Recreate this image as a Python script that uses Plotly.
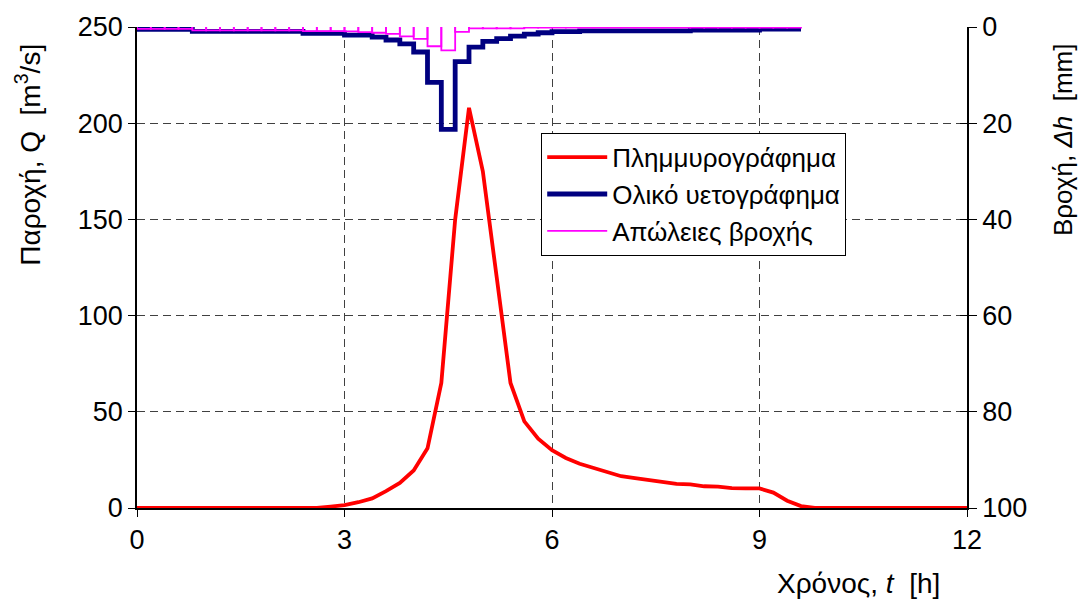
import plotly.graph_objects as go

# ---------------- data ----------------
# Flood hydrograph (time [h], discharge [m3/s])
t_q = [0.0, 2.6, 2.8, 3.0, 3.2, 3.4, 3.6, 3.8, 4.0, 4.2, 4.4, 4.6, 4.8, 5.0, 5.2, 5.4,
       5.6, 5.8, 6.0, 6.2, 6.4, 6.6, 6.8, 7.0, 7.2, 7.4, 7.6, 7.8, 8.0, 8.2, 8.4, 8.6,
       8.8, 9.0, 9.2, 9.4, 9.6, 9.8, 12.0]
q = [0.0, 0.0, 0.7, 1.5, 3.0, 5.0, 8.8, 13.0, 19.5, 31.0, 65.0, 150.0, 208.0, 175.0, 120.0, 65.0,
     45.0, 36.0, 30.0, 26.0, 23.0, 21.0, 18.5, 16.5, 15.5, 14.5, 13.5, 12.5, 12.3, 11.3, 11.1, 10.3,
     10.2, 10.2, 8.0, 3.8, 1.0, 0.0, 0.0]

# Rainfall intervals (start time [h]), interval length 0.2 h
t_rain = [0.0, 0.2, 0.4, 0.6, 0.8, 1.0, 1.2, 1.4, 1.6, 1.8, 2.0, 2.2, 2.4, 2.6, 2.8, 3.0,
          3.2, 3.4, 3.6, 3.8, 4.0, 4.2, 4.4, 4.6, 4.8, 5.0, 5.2, 5.4, 5.6, 5.8, 6.0, 6.2,
          6.4, 6.6, 6.8, 7.0, 7.2, 7.4, 7.6, 7.8, 8.0, 8.2, 8.4, 8.6, 8.8, 9.0, 9.2, 9.4]
dt = 0.2
# Total hyetograph [mm]
h_total = [0.5, 0.5, 0.5, 0.5, 0.9, 0.9, 0.9, 0.9, 0.9, 0.9, 0.9, 0.9, 1.3, 1.3, 1.3, 1.7,
           1.7, 2.1, 2.7, 3.5, 5.2, 11.5, 21.3, 7.2, 4.2, 3.0, 2.4, 1.9, 1.5, 1.2, 0.95, 0.95,
           0.8, 0.8, 0.8, 0.8, 0.8, 0.8, 0.8, 0.8, 0.65, 0.65, 0.65, 0.65, 0.65, 0.45, 0.45, 0.45]
# Rainfall losses [mm]
h_loss = [0.4, 0.4, 0.4, 0.4, 0.7, 0.7, 0.7, 0.7, 0.7, 0.7, 0.7, 0.7, 0.85, 0.85, 0.85, 0.9,
          1.05, 1.2, 1.45, 1.95, 2.45, 4.0, 4.85, 1.0, 0.3, 0.3, 0.3, 0.3, 0.1, 0.1, 0.1, 0.1,
          0.1, 0.1, 0.1, 0.1, 0.1, 0.1, 0.1, 0.1, 0.1, 0.1, 0.1, 0.1, 0.1, 0.1, 0.1, 0.1]

names = ["Πλημμυρογράφημα", "Ολικό υετογράφημα", "Απώλειες βροχής"]

# ---------------- build traces ----------------
x_tot = t_rain + [t_rain[-1] + dt]
y_tot = h_total + [h_total[-1]]

x_loss, y_loss = [], []
for t0, v in zip(t_rain, h_loss):
    x_loss += [t0, t0, t0 + dt, t0 + dt, None]
    y_loss += [0, v, v, 0, None]

FONT = "Liberation Sans, Arial, sans-serif"

fig = go.Figure()
fig.add_trace(go.Scatter(x=t_q, y=q, mode="lines", name=names[0],
                         line=dict(color="#FF0000", width=3.8), yaxis="y"))
fig.add_trace(go.Scatter(x=x_tot, y=y_tot, mode="lines", name=names[1], line_shape="hv",
                         line=dict(color="#000080", width=4.8), yaxis="y2"))
fig.add_trace(go.Scatter(x=x_loss, y=y_loss, mode="lines", name=names[2],
                         line=dict(color="#FF00FF", width=1.8), yaxis="y2",
                         connectgaps=False))
fig.add_trace(go.Scatter(x=[0], y=[0], mode="markers", marker=dict(opacity=0),
                         showlegend=False, hoverinfo="skip", yaxis="y3"))

grid = dict(showgrid=True, gridcolor="#404040", gridwidth=1, griddash="8px,5px")

fig.update_layout(
    width=1080, height=610,
    margin=dict(l=137, r=113, t=27, b=102),
    paper_bgcolor="white", plot_bgcolor="white",
    font=dict(family=FONT, size=27, color="black"),
    xaxis=dict(range=[0, 12], tickvals=[0, 3, 6, 9, 12], ticks="outside", ticklen=7,
               tickcolor="black", showline=True, linecolor="black", linewidth=1.5,
               zeroline=False, **grid),
    yaxis=dict(range=[0, 250], tickvals=[0, 50, 100, 150, 200, 250], ticks="outside",
               ticklen=7, tickcolor="black", showline=True, linecolor="black",
               linewidth=1.5, zeroline=False, **grid),
    yaxis2=dict(range=[100, 0], tickvals=[0, 20, 40, 60, 80, 100], overlaying="y",
                side="right", anchor="x", ticks="outside", ticklen=8, tickcolor="black",
                showline=True, linecolor="black", linewidth=1.5, showgrid=False,
                zeroline=False),
    yaxis3=dict(range=[100, 0], tickvals=[0, 20, 40, 60, 80, 100], overlaying="y",
                side="right", anchor="x", ticks="inside", ticklen=7, tickcolor="black",
                showticklabels=False, showline=False, showgrid=False, zeroline=False),
    legend=dict(x=0.487, y=0.78, xanchor="left", yanchor="top",
                bgcolor="white", bordercolor="black", borderwidth=1,
                font=dict(family=FONT, size=26), itemwidth=60,
                tracegroupgap=4),
    showlegend=True,
)

fig.add_annotation(text="Χρόνος, <i>t</i>&nbsp; [h]", xref="paper", yref="paper",
                   x=0.97, y=-0.12, xanchor="right", yanchor="top", showarrow=False,
                   font=dict(family=FONT, size=28))
fig.add_annotation(text="Παροχή, Q&nbsp; [m<sup>3</sup>/s]", xref="paper", yref="paper",
                   x=-0.131, y=0.735, xanchor="center", yanchor="middle", textangle=-90,
                   showarrow=False, font=dict(family=FONT, size=28))
fig.add_annotation(text="Βροχή, <i>Δh</i>&nbsp; [mm]", xref="paper", yref="paper",
                   x=1.1157, y=0.765, xanchor="center", yanchor="middle", textangle=-90,
                   showarrow=False, font=dict(family=FONT, size=26))

fig.write_html("out.html")
